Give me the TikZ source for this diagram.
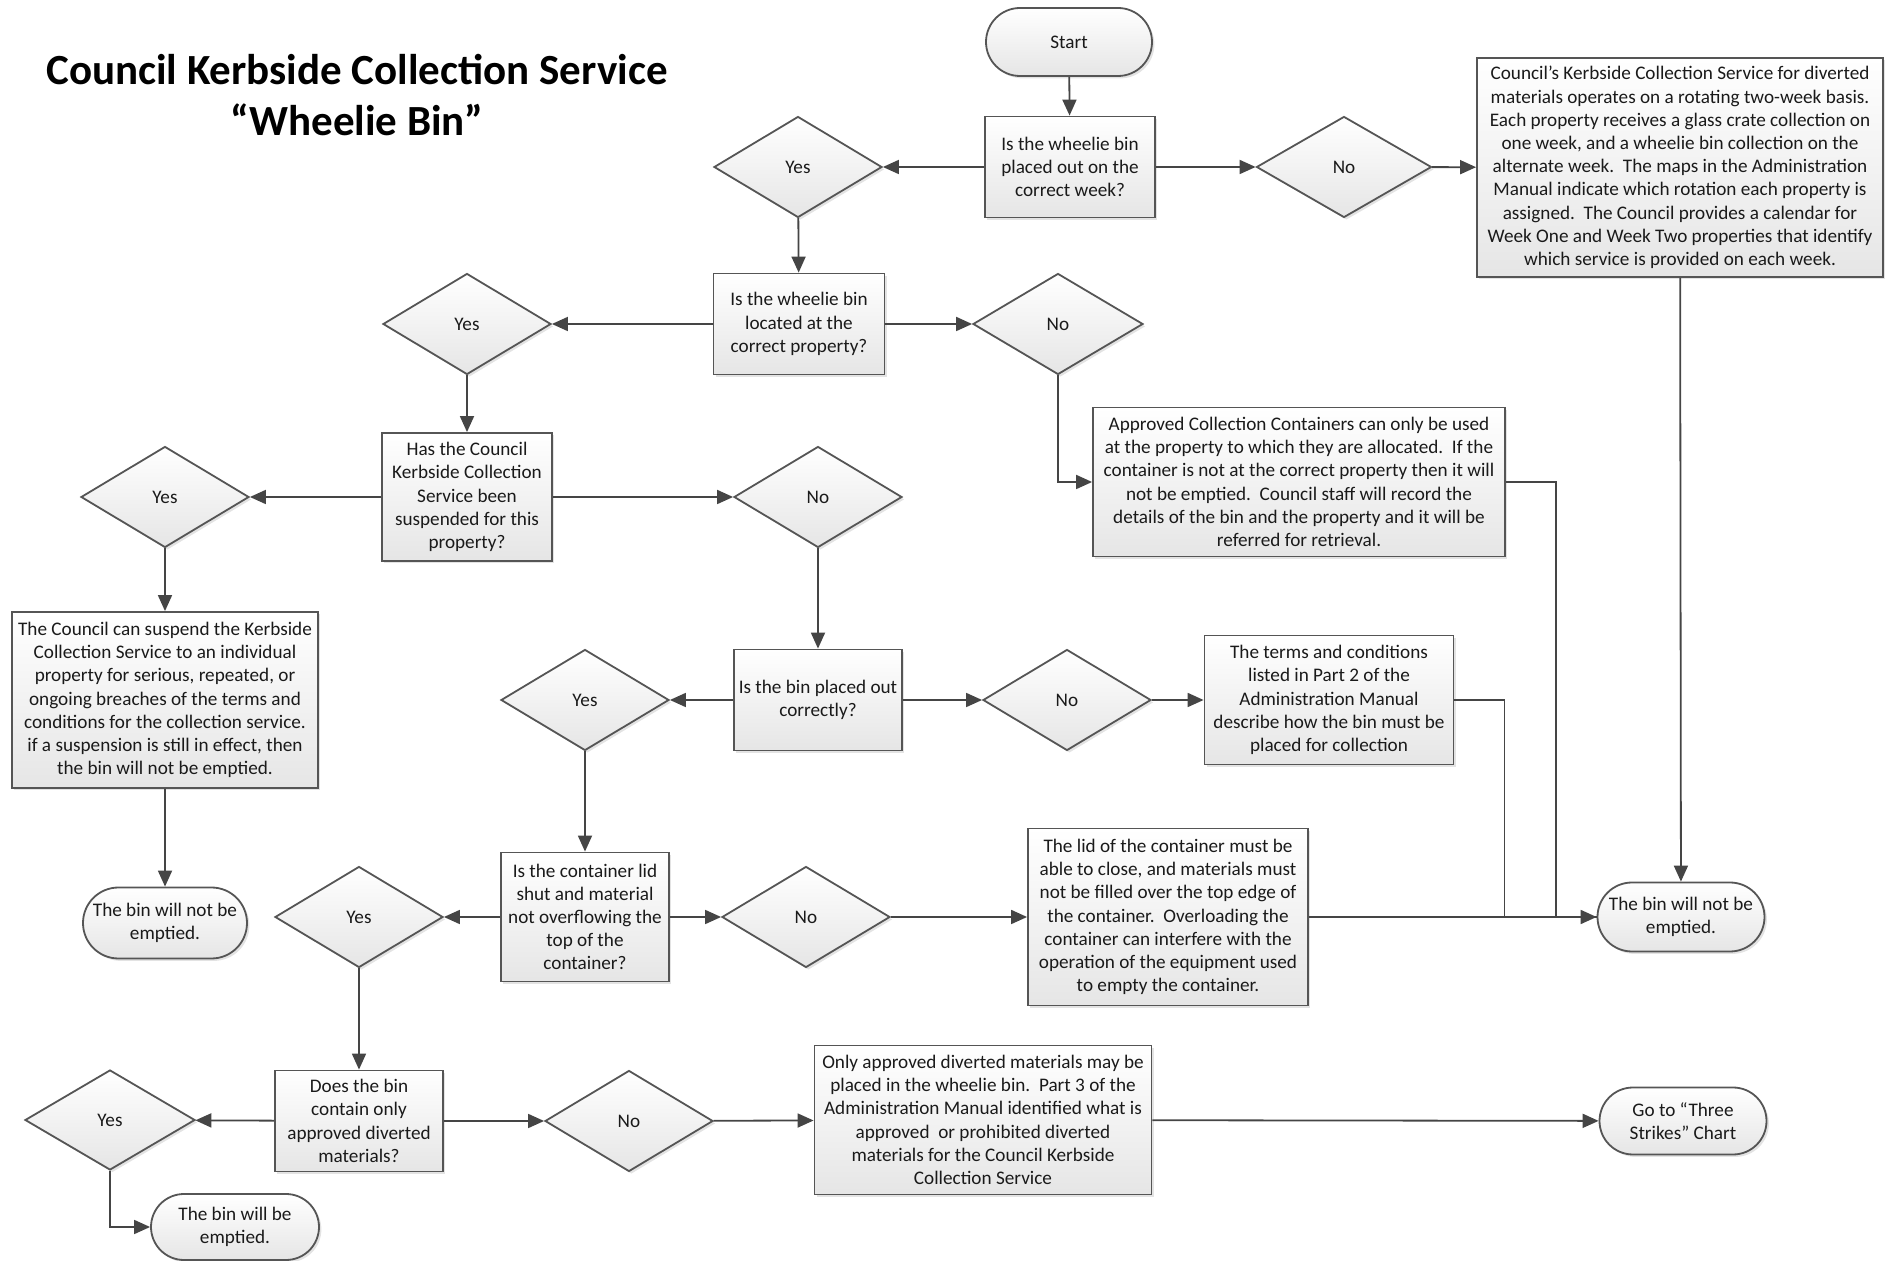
\documentclass[tikz,border=0pt]{standalone}
\usepackage{fontspec}
\setmainfont{Carlito}
\usetikzlibrary{
    arrows.meta,
    positioning,
    shapes.geometric,
    shapes.misc,
    shadows
}

\definecolor{edgegray}{HTML}{555555}
\definecolor{linegray}{HTML}{454545}
\definecolor{textgray}{HTML}{1A1A1A}

\begin{document}
\begin{tikzpicture}[
        x=0.5pt, y=-0.5pt,
        every node/.style={font=\fontsize{9.6}{11.6}\selectfont, text=textgray},
        base/.style={draw=edgegray, line width=0.9pt, top color=white,
                     bottom color=black!10, align=center, inner sep=1pt,
                     drop shadow={opacity=0.22, shadow xshift=1.2pt, shadow yshift=-1.2pt}},
        box/.style={base, rectangle, minimum width=84pt, minimum height=50.5pt},
        choice/.style={base, diamond, minimum width=84pt, minimum height=50.5pt},
        ending/.style={base, rounded rectangle, minimum width=85pt, minimum height=34pt},
        arrow/.style={-{Triangle[length=8pt, width=7pt]}, line width=0.9pt, draw=linegray},
        link/.style={line width=0.9pt, draw=linegray},
    ]
    \useasboundingbox (0,0) rectangle (1887,1261);

    % Title
    \node[font=\fontsize{21.5}{25.3}\selectfont\bfseries, text=black, align=center]
        (title) at (357,95) {Council Kerbside Collection Service\\``Wheelie Bin''};

    % Nodes - top row
    \node[ending] (start) at (1069,42) {Start};
    \node[box, minimum width=85pt] (qweek) at (1070,167)
        {Is the wheelie bin\\placed out on the\\correct week?};
    \node[choice] (yesweek) at (798,167) {Yes};
    \node[choice, minimum width=87.5pt] (noweek) at (1344,167) {No};
    \node[box, minimum width=203pt, minimum height=109.5pt] (infoweek) at (1680,167.5)
        {Council's Kerbside Collection Service for diverted\\
         materials operates on a rotating two-week basis.\\
         Each property receives a glass crate collection on\\
         one week, and a wheelie bin collection on the\\
         alternate week.\ \ The maps in the Administration\\
         Manual indicate which rotation each property is\\
         assigned.\ \ The Council provides a calendar for\\
         Week One and Week Two properties that identify\\
         which service is provided on each week.};

    % Nodes - property
    \node[box, minimum width=85.5pt] (qprop) at (799,324)
        {Is the wheelie bin\\located at the\\correct property?};
    \node[choice] (yesprop) at (467,324) {Yes};
    \node[choice, minimum width=85pt] (noprop) at (1058,324) {No};
    \node[box, minimum width=206pt, minimum height=74.5pt] (infoprop) at (1299,482)
        {Approved Collection Containers can only be used\\
         at the property to which they are allocated.\ \ If the\\
         container is not at the correct property then it will\\
         not be emptied.\ \ Council staff will record the\\
         details of the bin and the property and it will be\\
         referred for retrieval.};

    % Nodes - suspension
    \node[box, minimum width=85pt, minimum height=64pt] (qsusp) at (467,497)
        {Has the Council\\Kerbside Collection\\Service been\\suspended for this\\property?};
    \node[choice] (yessusp) at (165,497) {Yes};
    \node[choice] (nosusp) at (818,497) {No};
    \node[box, minimum width=153pt, minimum height=88pt] (infosusp) at (165,700)
        {The Council can suspend the Kerbside\\
         Collection Service to an individual\\
         property for serious, repeated, or\\
         ongoing breaches of the terms and\\
         conditions for the collection service.\\
         if a suspension is still in effect, then\\
         the bin will not be emptied.};
    \node[ending, minimum width=84pt, minimum height=35.5pt] (endsusp) at (165,923)
        {The bin will not be\\emptied.};

    % Nodes - placement
    \node[box] (qplace) at (818,700) {Is the bin placed out\\correctly?};
    \node[choice] (yesplace) at (585,700) {Yes};
    \node[choice] (noplace) at (1067,700) {No};
    \node[box, minimum width=124.5pt, minimum height=64.5pt] (infoplace) at (1329,700)
        {The terms and conditions\\listed in Part 2 of the\\Administration Manual\\
         describe how the bin must be\\placed for collection};

    % Nodes - lid
    \node[box, minimum height=64.5pt] (qlid) at (585,917)
        {Is the container lid\\shut and material\\not overflowing the\\top of the\\container?};
    \node[choice] (yeslid) at (359,917) {Yes};
    \node[choice] (nolid) at (806,917) {No};
    \node[box, minimum width=140pt, minimum height=88.5pt] (infolid) at (1168,917)
        {The lid of the container must be\\
         able to close, and materials must\\
         not be filled over the top edge of\\
         the container.\ \ Overloading the\\
         container can interfere with the\\
         operation of the equipment used\\
         to empty the container.};
    \node[ending, minimum width=85.5pt, minimum height=34.5pt] (endnot) at (1681,917)
        {The bin will not be\\emptied.};

    % Nodes - materials
    \node[box] (qmat) at (359,1121)
        {Does the bin\\contain only\\approved diverted\\materials?};
    \node[choice, minimum width=85pt, minimum height=50pt] (yesmat) at (110,1120) {Yes};
    \node[choice] (nomat) at (629,1121) {No};
    \node[box, minimum width=168.5pt, minimum height=74.5pt] (infomat) at (983,1120)
        {Only approved diverted materials may be\\
         placed in the wheelie bin.\ \ Part 3 of the\\
         Administration Manual identified what is\\
         approved\ \ or prohibited diverted\\
         materials for the Council Kerbside\\
         Collection Service};
    \node[ending, minimum width=85.5pt, minimum height=33.5pt] (strikes) at (1683,1121)
        {Go to ``Three\\Strikes'' Chart};
    \node[ending, minimum width=86pt, minimum height=33pt] (endok) at (235,1227)
        {The bin will be\\emptied.};

    % Arrows - main spine
    \draw[arrow] (start) -- (qweek);
    \draw[arrow] (qweek) -- (yesweek);
    \draw[arrow] (qweek) -- (noweek);
    \draw[arrow] (noweek) -- (infoweek);
    \draw[arrow] (yesweek) -- (qprop);
    \draw[arrow] (qprop) -- (yesprop);
    \draw[arrow] (qprop) -- (noprop);
    \draw[arrow] (noprop.south) |- (infoprop.west);
    \draw[arrow] (yesprop) -- (qsusp);
    \draw[arrow] (qsusp) -- (yessusp);
    \draw[arrow] (qsusp) -- (nosusp);
    \draw[arrow] (yessusp) -- (infosusp);
    \draw[arrow] (infosusp) -- (endsusp);
    \draw[arrow] (nosusp) -- (qplace);
    \draw[arrow] (qplace) -- (yesplace);
    \draw[arrow] (qplace) -- (noplace);
    \draw[arrow] (noplace) -- (infoplace);
    \draw[arrow] (yesplace) -- (qlid);
    \draw[arrow] (qlid) -- (yeslid);
    \draw[arrow] (qlid) -- (nolid);
    \draw[arrow] (nolid) -- (infolid);
    \draw[arrow] (yeslid) -- (qmat);
    \draw[arrow] (qmat) -- (yesmat);
    \draw[arrow] (qmat) -- (nomat);
    \draw[arrow] (nomat) -- (infomat);
    \draw[arrow] (infomat) -- (strikes);
    \draw[arrow] (yesmat.south) |- (endok.west);

    % Arrows - into "not emptied"
    \draw[arrow] (infoweek) -- (endnot);
    \draw[arrow] (infolid) -- (endnot);
    \draw[link] (infoprop.east) -- ++(50,0) |- (endnot.west);
    \draw[link] (infoplace.east) -- ++(50,0) |- (endnot.west);

\end{tikzpicture}
\end{document}
